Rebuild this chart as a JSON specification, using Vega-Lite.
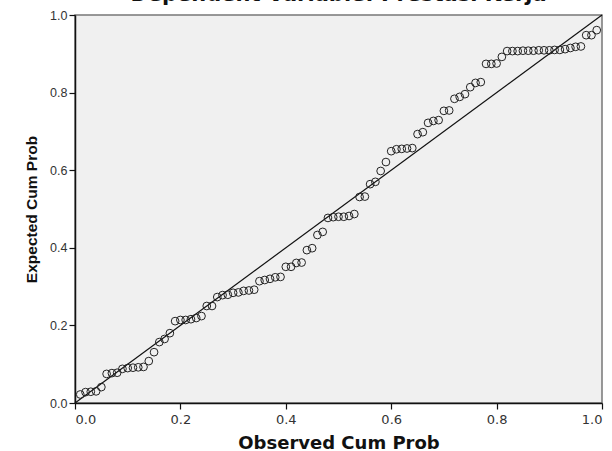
{
  "$schema": "https://vega.github.io/schema/vega-lite/v6.json",
  "autosize": "none",
  "width": 527,
  "height": 388,
  "padding": {"left": 75, "top": 15, "right": 10, "bottom": 48},
  "background": "white",
  "title": {
    "text": "Dependent Variable: Prestasi Kerja",
    "frame": "group",
    "anchor": "middle",
    "baseline": "alphabetic",
    "offset": -13,
    "font": "DejaVu Sans",
    "fontSize": 21,
    "fontWeight": "bold",
    "color": "#111111"
  },
  "config": {
    "view": {"fill": "#F0F0F0", "stroke": "#777777", "strokeWidth": 1.5},
    "axis": {
      "labelColor": "#333333",
      "titleColor": "#111111",
      "titleFontWeight": "bold",
      "domainColor": "#111111",
      "domainWidth": 1.5,
      "tickColor": "#111111",
      "tickSize": 6,
      "tickWidth": 1.2,
      "grid": false
    }
  },
  "data": {
    "values": [
      {"obs": 0.01, "exp": 0.022}, {"obs": 0.02, "exp": 0.028}, {"obs": 0.03, "exp": 0.029}, {"obs": 0.04, "exp": 0.030},
      {"obs": 0.05, "exp": 0.041}, {"obs": 0.06, "exp": 0.075}, {"obs": 0.07, "exp": 0.077}, {"obs": 0.08, "exp": 0.078},
      {"obs": 0.09, "exp": 0.088}, {"obs": 0.10, "exp": 0.090}, {"obs": 0.11, "exp": 0.091}, {"obs": 0.12, "exp": 0.092},
      {"obs": 0.13, "exp": 0.093}, {"obs": 0.14, "exp": 0.108}, {"obs": 0.15, "exp": 0.131}, {"obs": 0.16, "exp": 0.157},
      {"obs": 0.17, "exp": 0.165}, {"obs": 0.18, "exp": 0.180}, {"obs": 0.19, "exp": 0.211}, {"obs": 0.20, "exp": 0.214},
      {"obs": 0.21, "exp": 0.214}, {"obs": 0.22, "exp": 0.216}, {"obs": 0.23, "exp": 0.219}, {"obs": 0.24, "exp": 0.224},
      {"obs": 0.25, "exp": 0.250}, {"obs": 0.26, "exp": 0.250}, {"obs": 0.27, "exp": 0.273}, {"obs": 0.28, "exp": 0.278},
      {"obs": 0.29, "exp": 0.279}, {"obs": 0.30, "exp": 0.284}, {"obs": 0.31, "exp": 0.285}, {"obs": 0.32, "exp": 0.289},
      {"obs": 0.33, "exp": 0.290}, {"obs": 0.34, "exp": 0.292}, {"obs": 0.35, "exp": 0.314}, {"obs": 0.36, "exp": 0.317},
      {"obs": 0.37, "exp": 0.320}, {"obs": 0.38, "exp": 0.324}, {"obs": 0.39, "exp": 0.325}, {"obs": 0.40, "exp": 0.351},
      {"obs": 0.41, "exp": 0.351}, {"obs": 0.42, "exp": 0.361}, {"obs": 0.43, "exp": 0.362}, {"obs": 0.44, "exp": 0.394},
      {"obs": 0.45, "exp": 0.399}, {"obs": 0.46, "exp": 0.433}, {"obs": 0.47, "exp": 0.441}, {"obs": 0.48, "exp": 0.477},
      {"obs": 0.49, "exp": 0.479}, {"obs": 0.50, "exp": 0.480}, {"obs": 0.51, "exp": 0.480}, {"obs": 0.52, "exp": 0.482},
      {"obs": 0.53, "exp": 0.487}, {"obs": 0.54, "exp": 0.531}, {"obs": 0.55, "exp": 0.532}, {"obs": 0.56, "exp": 0.564},
      {"obs": 0.57, "exp": 0.570}, {"obs": 0.58, "exp": 0.598}, {"obs": 0.59, "exp": 0.621}, {"obs": 0.60, "exp": 0.649},
      {"obs": 0.61, "exp": 0.654}, {"obs": 0.62, "exp": 0.655}, {"obs": 0.63, "exp": 0.656}, {"obs": 0.64, "exp": 0.657},
      {"obs": 0.65, "exp": 0.693}, {"obs": 0.66, "exp": 0.698}, {"obs": 0.67, "exp": 0.722}, {"obs": 0.68, "exp": 0.727},
      {"obs": 0.69, "exp": 0.729}, {"obs": 0.70, "exp": 0.753}, {"obs": 0.71, "exp": 0.754}, {"obs": 0.72, "exp": 0.784},
      {"obs": 0.73, "exp": 0.789}, {"obs": 0.74, "exp": 0.796}, {"obs": 0.75, "exp": 0.814}, {"obs": 0.76, "exp": 0.825},
      {"obs": 0.77, "exp": 0.827}, {"obs": 0.78, "exp": 0.874}, {"obs": 0.79, "exp": 0.874}, {"obs": 0.80, "exp": 0.875},
      {"obs": 0.81, "exp": 0.892}, {"obs": 0.82, "exp": 0.907}, {"obs": 0.83, "exp": 0.907}, {"obs": 0.84, "exp": 0.907},
      {"obs": 0.85, "exp": 0.908}, {"obs": 0.86, "exp": 0.908}, {"obs": 0.87, "exp": 0.908}, {"obs": 0.88, "exp": 0.909},
      {"obs": 0.89, "exp": 0.909}, {"obs": 0.90, "exp": 0.909}, {"obs": 0.91, "exp": 0.910}, {"obs": 0.92, "exp": 0.910},
      {"obs": 0.93, "exp": 0.912}, {"obs": 0.94, "exp": 0.915}, {"obs": 0.95, "exp": 0.918}, {"obs": 0.96, "exp": 0.919},
      {"obs": 0.97, "exp": 0.948}, {"obs": 0.98, "exp": 0.948}, {"obs": 0.99, "exp": 0.961}
    ]
  },
  "layer": [
    {
      "data": {"values": [{"a": 0, "b": 0}, {"a": 1, "b": 1}]},
      "mark": {"type": "line", "color": "#111111", "strokeWidth": 1.2},
      "encoding": {
        "x": {"field": "a", "type": "quantitative", "scale": {"domain": [0, 1]}},
        "y": {"field": "b", "type": "quantitative", "scale": {"domain": [0, 1]}}
      }
    },
    {
      "mark": {"type": "point", "shape": "circle", "filled": false, "size": 60, "stroke": "#222222", "strokeWidth": 1, "opacity": 1},
      "encoding": {
        "x": {
          "field": "obs", "type": "quantitative",
          "scale": {"domain": [0, 1], "nice": false, "zero": true},
          "axis": {"title": "Observed Cum Prob", "values": [0, 0.2, 0.4, 0.6, 0.8, 1.0], "format": ".1f",
                   "labelFont": "DejaVu Sans", "labelFontSize": 13, "labelPadding": 4,
                   "titleFont": "DejaVu Sans", "titleFontSize": 18, "titlePadding": 8}
        },
        "y": {
          "field": "exp", "type": "quantitative",
          "scale": {"domain": [0, 1], "nice": false},
          "axis": {"title": "Expected Cum Prob", "values": [0, 0.2, 0.4, 0.6, 0.8, 1.0], "format": ".1f",
                   "labelFont": "Liberation Sans", "labelFontSize": 12.5, "labelPadding": 2,
                   "titleFont": "Liberation Sans", "titleFontSize": 15.5, "titlePadding": 10}
        }
      }
    }
  ]
}
